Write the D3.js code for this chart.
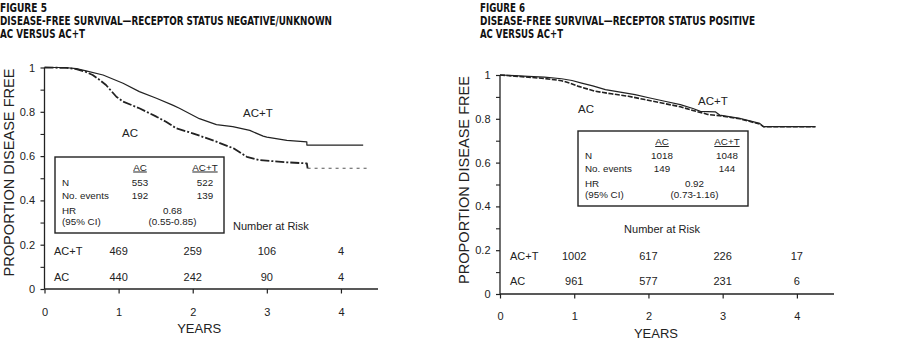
<!DOCTYPE html>
<html><head><meta charset="utf-8">
<script src="https://cdn.jsdelivr.net/npm/d3@7/dist/d3.min.js"></script>
<style>
body{margin:0;background:#fff;}
svg{display:block;}
text{font-family:"Liberation Sans",Arial,sans-serif;fill:#222;}
.title{font-family:"Liberation Sans Narrow","DejaVu Sans Condensed","Roboto Condensed",sans-serif;font-weight:bold;fill:#111;}
</style></head>
<body>
<svg id="c" width="912" height="346"></svg>
<script>
// ---------- DATA ----------
const yearTicks = [0, 1, 2, 3, 4];
const yTicks = [0, 0.2, 0.4, 0.6, 0.8, 1];
const yTickLabels = ["0", "0.2", "0.4", "0.6", "0.8", "1"];
const yMinorTicks = [0.1, 0.3, 0.5, 0.7, 0.9];

// Figure 5 : receptor status negative/unknown  [years, proportion]
const fig5ACT = [[0,1],[0.27,1],[0.43,0.995],[0.56,0.985],[0.79,0.966],[1.06,0.929],[1.28,0.891],[1.51,0.861],[1.73,0.83],[1.82,0.816],[2.09,0.769],[2.32,0.742],[2.54,0.733],[2.77,0.716],[2.95,0.69],[3.0,0.686],[3.27,0.671],[3.54,0.664],[3.54,0.65],[4.30,0.65]];
const fig5AC = [[0,1],[0.3,0.998],[0.43,0.993],[0.56,0.98],[0.65,0.966],[0.74,0.945],[0.83,0.921],[0.97,0.868],[1.06,0.846],[1.28,0.816],[1.51,0.778],[1.64,0.755],[1.78,0.725],[2.0,0.703],[2.32,0.665],[2.55,0.635],[2.73,0.597],[2.9,0.582],[3.27,0.572],[3.54,0.567],[3.55,0.545]];
const fig5ACTail = [[3.55,0.545],[4.39,0.545]];
const fig5Groups = ["AC", "AC+T"];
const fig5N = ["553", "522"];
const fig5Events = ["192", "139"];
const fig5HR = "0.68";
const fig5CI = "(0.55-0.85)";
const fig5RiskACT = ["469", "259", "106", "4"];
const fig5RiskAC = ["440", "242", "90", "4"];
const fig5Titles = ["FIGURE 5", "DISEASE-FREE SURVIVAL\u2014RECEPTOR STATUS NEGATIVE/UNKNOWN", "AC VERSUS AC+T"];

// Figure 6 : receptor status positive
const fig6ACT = [[0,1],[0.2,0.997],[0.38,0.994],[0.6,0.99],[0.83,0.983],[0.97,0.975],[1.10,0.963],[1.25,0.95],[1.42,0.933],[1.62,0.922],[1.82,0.91],[2.02,0.895],[2.22,0.88],[2.43,0.865],[2.6,0.847],[2.7,0.834],[2.9,0.832],[2.96,0.817],[3.23,0.802],[3.5,0.779],[3.55,0.764],[4.25,0.764]];
const fig6AC = [[0,1],[0.2,0.995],[0.38,0.99],[0.6,0.984],[0.83,0.974],[0.95,0.962],[1.06,0.948],[1.28,0.926],[1.5,0.914],[1.73,0.903],[1.95,0.888],[2.18,0.872],[2.43,0.855],[2.6,0.838],[2.8,0.82],[2.96,0.814],[3.23,0.8],[3.5,0.776],[3.55,0.764],[4.25,0.764]];
const fig6Groups = ["AC", "AC+T"];
const fig6N = ["1018", "1048"];
const fig6Events = ["149", "144"];
const fig6HR = "0.92";
const fig6CI = "(0.73-1.16)";
const fig6RiskACT = ["1002", "617", "226", "17"];
const fig6RiskAC = ["961", "577", "231", "6"];
const fig6Titles = ["FIGURE 6", "DISEASE-FREE SURVIVAL\u2014RECEPTOR STATUS POSITIVE", "AC VERSUS AC+T"];

const rowLabels = ["N", "No. events", "HR", "(95% CI)"];
const riskYears = [1, 2, 3, 4];

// ---------- DRAW ----------
const svg = d3.select("#c");
const ink = "#222";

function panel(o) {
  const g = svg.append("g");
  // titles
  o.titles.forEach((t, i) => {
    g.append("text").attr("class", "title").attr("x", o.tx).attr("y", o.tys[i])
      .attr("font-size", 11.8).attr("textLength", o.tws[i]).attr("lengthAdjust", "spacingAndGlyphs").text(t);
  });
  const x = d3.scaleLinear().domain([0, 4.5]).range(o.xr);
  const y = d3.scaleLinear().domain([0, 1]).range(o.yr);

  // y axis
  const ya = g.append("g").attr("transform", `translate(${o.xr[0]},0)`)
    .call(d3.axisLeft(y).tickValues(yTicks).tickSize(4).tickPadding(5.5)
      .tickFormat((d, i) => yTickLabels[i]));
  ya.select(".domain").attr("stroke", ink).attr("stroke-width", 1.3).attr("d", `M0,${o.yr[0]}V${o.yr[1]}`);
  ya.selectAll(".tick line").attr("stroke", ink).attr("stroke-width", 1.2);
  ya.selectAll(".tick text").attr("font-size", 11).attr("fill", ink).attr("font-family", "Liberation Sans, Arial, sans-serif");
  const ym = g.append("g").attr("transform", `translate(${o.xr[0]},0)`)
    .call(d3.axisLeft(y).tickValues(yMinorTicks).tickSize(4).tickFormat(""));
  ym.select(".domain").remove();
  ym.selectAll(".tick line").attr("stroke", ink).attr("stroke-width", 1.1);

  // x axis
  const xa = g.append("g").attr("transform", `translate(0,${o.yr[0]})`)
    .call(d3.axisBottom(x).tickValues(yearTicks).tickSize(4.5).tickPadding(o.xpad).tickFormat(d3.format("d")));
  xa.select(".domain").attr("stroke", ink).attr("stroke-width", 1.3).attr("d", `M${o.xr[0]},0H${o.xr[1]}`);
  xa.selectAll(".tick line").attr("stroke", ink).attr("stroke-width", 1.2);
  xa.selectAll(".tick text").attr("font-size", 11).attr("fill", ink).attr("font-family", "Liberation Sans, Arial, sans-serif");

  // axis titles
  g.append("text").attr("x", (o.xr[0] + o.xr[1]) / 2 + o.yearsDx).attr("y", o.yearsY).attr("text-anchor", "middle")
    .attr("font-size", 13).text("YEARS");
  g.append("text").attr("transform", `translate(${o.ytX},${o.ytY}) rotate(-90)`).attr("text-anchor", "middle")
    .attr("font-size", 14.6).text("PROPORTION DISEASE FREE");

  // curves
  const line = d3.line().x(d => x(d[0])).y(d => y(d[1]));
  o.curves.forEach(c => {
    g.append("path").attr("d", line(c.data)).attr("fill", "none").attr("stroke", c.color || ink)
      .attr("stroke-width", c.w).attr("stroke-dasharray", c.dash || null).attr("stroke-linejoin", "round");
  });
  o.curveLabels.forEach(l => {
    g.append("text").attr("x", l.x).attr("y", l.y).attr("font-size", 11.5).text(l.t);
  });

  // summary box
  const b = o.box;
  g.append("rect").attr("x", b.x).attr("y", b.y).attr("width", b.w).attr("height", b.h)
    .attr("fill", "#fff").attr("stroke", ink).attr("stroke-width", 1.4);
  const fs = 9.8;
  o.groups.forEach((gr, i) => {
    g.append("text").attr("x", b.cols[i]).attr("y", b.rows[0]).attr("text-anchor", "middle")
      .attr("font-size", fs).attr("text-decoration", "underline").text(gr);
  });
  [o.N, o.events].forEach((vals, r) => {
    g.append("text").attr("x", b.lx).attr("y", b.rows[r + 1]).attr("font-size", fs).text(rowLabels[r]);
    vals.forEach((v, i) => g.append("text").attr("x", b.cols[i]).attr("y", b.rows[r + 1])
      .attr("text-anchor", "middle").attr("font-size", fs).text(v));
  });
  g.append("text").attr("x", b.lx).attr("y", b.rows[3]).attr("font-size", fs).text(rowLabels[2]);
  g.append("text").attr("x", b.lx).attr("y", b.rows[4]).attr("font-size", fs).text(rowLabels[3]);
  const mid = (b.cols[0] + b.cols[1]) / 2;
  g.append("text").attr("x", mid).attr("y", b.rows[3]).attr("text-anchor", "middle").attr("font-size", fs).text(o.HR);
  g.append("text").attr("x", mid).attr("y", b.rows[4]).attr("text-anchor", "middle").attr("font-size", fs).text(o.CI);

  // number at risk
  g.append("text").attr("x", o.nar.x).attr("y", o.nar.y).attr("text-anchor", o.nar.anchor)
    .attr("font-size", 11).text("Number at Risk");
  [[ "AC+T", o.riskACT, o.riskY[0]], ["AC", o.riskAC, o.riskY[1]]].forEach(([lab, vals, yy]) => {
    g.append("text").attr("x", o.riskLX).attr("y", yy).attr("font-size", 11).text(lab);
    vals.forEach((v, i) => g.append("text").attr("x", x(riskYears[i])).attr("y", yy)
      .attr("text-anchor", "middle").attr("font-size", 11).text(v));
  });
}

panel({
  titles: fig5Titles, tx: 0, tys: [11.5, 24.5, 37.5], tws: [47, 332, 85],
  xr: [44.5, 378], yr: [289, 67.5], xpad: 15, yearsDx: -12, yearsY: 333,
  ytX: 14, ytY: 172.5,
  curves: [
    {data: fig5ACT, w: 1.2},
    {data: fig5AC, w: 1.8, dash: "9,2,2,2"},
    {data: fig5ACTail, w: 1.1, dash: "3,4", color: "#555"}
  ],
  curveLabels: [{t: "AC+T", x: 243, y: 116.5}, {t: "AC", x: 122, y: 136.5}],
  box: {x: 55, y: 157, w: 169, h: 76, cols: [140, 205], rows: [170.5, 186, 199, 213.5, 225], lx: 62},
  groups: fig5Groups, N: fig5N, events: fig5Events, HR: fig5HR, CI: fig5CI,
  nar: {x: 233, y: 230, anchor: "start"},
  riskLX: 54, riskY: [255, 280.5], riskACT: fig5RiskACT, riskAC: fig5RiskAC
});

panel({
  titles: fig6Titles, tx: 480, tys: [11.5, 24.5, 37.5], tws: [45, 275, 83],
  xr: [500, 834], yr: [294, 75], xpad: 14, yearsDx: -11, yearsY: 338,
  ytX: 468.5, ytY: 180,
  curves: [
    {data: fig6ACT, w: 1.2},
    {data: fig6AC, w: 1.6, dash: "5,1.5"}
  ],
  curveLabels: [{t: "AC+T", x: 698, y: 105}, {t: "AC", x: 578, y: 113}],
  box: {x: 578, y: 131, w: 170, h: 75, cols: [662, 727], rows: [145, 159, 172, 186.5, 197.5], lx: 585},
  groups: fig6Groups, N: fig6N, events: fig6Events, HR: fig6HR, CI: fig6CI,
  nar: {x: 662, y: 233, anchor: "middle"},
  riskLX: 510, riskY: [260, 285], riskACT: fig6RiskACT, riskAC: fig6RiskAC
});
</script>
</body></html>
